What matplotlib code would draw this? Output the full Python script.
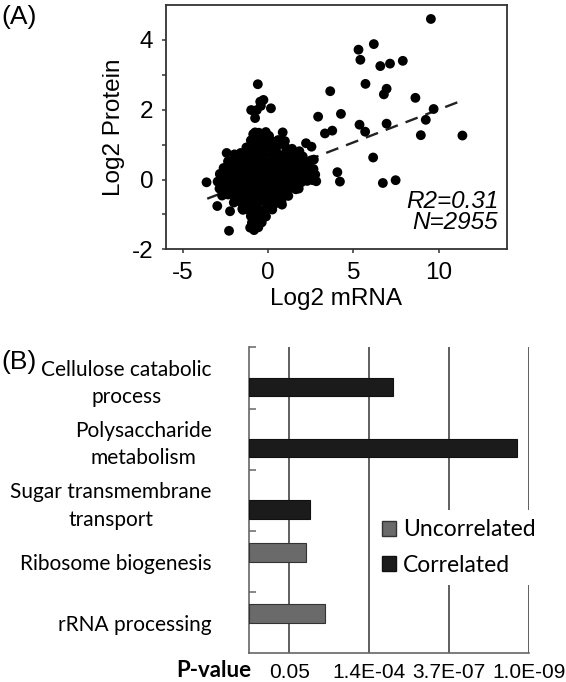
import matplotlib
matplotlib.use("Agg")
import matplotlib.pyplot as plt
from matplotlib.patches import Patch
import numpy as np

plt.rcParams["axes.unicode_minus"] = False

# ---------------- Panel A data (Log2 mRNA, Log2 Protein) ----------------
outlier_points = [
    (9.55, 4.60), (6.20, 3.88), (5.30, 3.72), (5.41, 3.43), (6.58, 3.25), (7.15, 3.32),
    (7.90, 3.40), (5.71, 2.74), (6.95, 2.60), (6.79, 2.44), (3.64, 2.53), (8.64, 2.34),
    (9.71, 2.02), (9.25, 1.71), (2.93, 1.80), (4.27, 1.88), (5.36, 1.57), (6.95, 1.60),
    (5.69, 1.37), (3.33, 1.32), (3.76, 1.40), (8.96, 1.27), (11.40, 1.26), (6.16, 0.63),
    (4.06, 0.21), (4.21, -0.06), (6.73, -0.10), (7.48, -0.02),
    (2.54, 0.94), (0.85, 1.35), (1.83, 0.81), (-3.62, -0.08), (-2.99, -0.76), (-2.30, -1.47),
    (-2.24, -0.91), (-1.48, -0.87), (-1.06, -1.38), (-0.83, -1.45), (-0.61, 2.73),
    (-0.28, 2.28), (-0.47, 2.23), (-1.00, 1.99), (-0.67, 1.99), (0.16, 2.04), (-0.77, 1.76),
    (-0.43, 2.11), (-0.14, 1.36), (-0.77, 1.35), (-2.44, 0.76), (-2.84, 0.16), (0.81, -0.72),
    (0.06, -0.76), (-0.24, -1.04), (2.68, 0.57), (2.82, -0.05), (1.79, -0.26), (2.22, 1.04),
    (2.03, 0.66), (0.75, 1.04),
]
cluster_points = [
    (-0.88, 1.30), (-0.55, 1.34), (-0.26, 1.28), (0.05, 1.25),
    (-1.02, 1.12), (-0.70, 1.15), (-0.40, 1.10), (-0.10, 1.14), (0.28, 1.08), (0.58, 1.13), (0.98, 1.10),
    (-1.28, 0.92), (-0.92, 0.95), (-0.57, 0.90), (-0.22, 0.96), (0.14, 0.91), (0.50, 0.94), (1.05, 0.90), (1.40, 0.88),
    (-1.98, 0.72), (-1.62, 0.76), (-1.27, 0.73), (-0.93, 0.75), (-0.56, 0.71), (-0.21, 0.77), (0.16, 0.73),
    (0.52, 0.75), (0.86, 0.70), (1.22, 0.74), (1.57, 0.72), (1.88, 0.68),
    (-2.36, 0.52), (-2.02, 0.56), (-1.66, 0.53), (-1.31, 0.55), (-0.96, 0.51), (-0.61, 0.57), (-0.26, 0.54),
    (0.11, 0.52), (0.46, 0.56), (0.81, 0.53), (1.16, 0.55), (1.51, 0.51), (1.86, 0.54), (2.21, 0.50), (2.52, 0.55),
    (-2.62, 0.33), (-2.27, 0.37), (-1.91, 0.34), (-1.56, 0.36), (-1.21, 0.32), (-0.86, 0.37), (-0.51, 0.35),
    (-0.16, 0.33), (0.21, 0.36), (0.56, 0.34), (0.91, 0.37), (1.26, 0.33), (1.61, 0.35), (1.96, 0.32), (2.31, 0.36), (2.66, 0.30),
    (-2.81, 0.14), (-2.46, 0.17), (-2.11, 0.13), (-1.76, 0.16), (-1.41, 0.12), (-1.06, 0.17), (-0.71, 0.15),
    (-0.36, 0.13), (0.01, 0.16), (0.36, 0.14), (0.71, 0.17), (1.06, 0.12), (1.41, 0.15), (1.76, 0.13),
    (2.11, 0.16), (2.46, 0.11), (2.76, 0.14),
    (-2.97, -0.06), (-2.61, -0.03), (-2.26, -0.07), (-1.91, -0.04), (-1.56, -0.06), (-1.21, -0.02), (-0.86, -0.05),
    (-0.51, -0.07), (-0.16, -0.03), (0.19, -0.06), (0.54, -0.04), (0.89, -0.07), (1.24, -0.03), (1.59, -0.05),
    (1.94, -0.08), (2.29, -0.04), (2.62, -0.02),
    (-2.86, -0.26), (-2.51, -0.23), (-2.16, -0.27), (-1.81, -0.24), (-1.46, -0.26), (-1.11, -0.22), (-0.76, -0.25),
    (-0.41, -0.28), (-0.06, -0.24), (0.29, -0.26), (0.64, -0.23), (0.99, -0.27), (1.34, -0.24), (1.62, -0.28),
    (-2.71, -0.46), (-2.36, -0.43), (-2.01, -0.47), (-1.66, -0.44), (-1.31, -0.46), (-0.96, -0.42), (-0.61, -0.45),
    (-0.26, -0.48), (0.09, -0.44), (0.44, -0.46), (0.84, -0.43), (1.18, -0.47),
    (-2.02, -0.66), (-1.66, -0.63), (-1.31, -0.67), (-0.96, -0.64), (-0.61, -0.66), (-0.26, -0.62),
    (0.09, -0.65), (0.44, -0.68), (0.78, -0.62),
    (-1.52, -0.84), (-1.16, -0.87), (-0.81, -0.85), (-0.46, -0.88), (-0.11, -0.84), (0.24, -0.86),
    (-1.02, -1.05), (-0.71, -1.08), (-0.41, -1.04), (-0.13, -1.06),
    (-0.96, -1.24), (-0.66, -1.27), (-0.38, -1.23),
    (-0.86, -1.40), (-0.58, -1.37),
]
fit_slope = 0.188
fit_intercept = 0.123
fit_x_range = [-3.58, 11.44]
r2_text = "R2=0.31"
n_text = "N=2955"

# ---------------- Panel B data ----------------
categories = ["Cellulose catabolic\nprocess", "Polysaccharide\nmetabolism",
              "Sugar transmembrane\ntransport", "Ribosome biogenesis", "rRNA processing"]
correlated = [10.8, 20.06, 4.55, 0, 0]       # -ln(P-value)
uncorrelated = [0, 0, 0, 4.25, 5.68]         # -ln(P-value)
p_tick_pos = [3, 9, 15, 21]
p_tick_labels = ["0.05", "1.4E-04", "3.7E-07", "1.0E-09"]

# ---------------- Figure ----------------
W, H = 566, 682
fig = plt.figure(figsize=(W / 100, H / 100), dpi=100)
arial = "Liberation Sans"
calibri = "Lato"

# ---- Panel A ----
ax1 = fig.add_axes([166 / W, 1 - 249.3 / H, (506.7 - 166) / W, (249.3 - 5) / H])
pts = outlier_points + cluster_points
mx = [p[0] for p in pts]
py = [p[1] for p in pts]
ax1.scatter(mx, py, s=50, c="black", edgecolors="none", zorder=3)
fx = np.array(fit_x_range)
ax1.plot(fx, fit_slope * fx + fit_intercept, color="#222222", lw=1.7,
         dashes=(5.5, 3.5), zorder=2)
ax1.set_xlim(-6, 14)
ax1.set_ylim(-2, 5)
ax1.set_xticks([-5, 0, 5, 10])
ax1.set_yticks([-2, 0, 2, 4])
ax1.set_yticks([-1, 1, 3], minor=True)
for s in ax1.spines.values():
    s.set_color("#333333")
    s.set_linewidth(1.3)
ax1.tick_params(which="both", direction="out", length=3, width=1.1, color="#333333",
                labelsize=17.5, pad=6)
ax1.tick_params(which="minor", labelleft=False)
for lab in ax1.get_xticklabels() + ax1.get_yticklabels():
    lab.set_fontfamily(arial)
ax1.set_xlabel("Log2 mRNA", fontsize=17.5, family=arial, labelpad=3)
ax1.set_ylabel("Log2 Protein", fontsize=17.5, family=arial, labelpad=5)
ax1.text(13.5, -0.62, r2_text, ha="right", va="center", fontsize=17.5,
         style="italic", family=arial)
ax1.text(13.5, -1.23, n_text, ha="right", va="center", fontsize=17.5,
         style="italic", family=arial)

fig.text(1 / W, 1 - 17 / H, "(A)", fontsize=19, family=arial, ha="left", va="center")
fig.text(1 / W, 1 - 362 / H, "(B)", fontsize=19, family=arial, ha="left", va="center")

# ---- Panel B ----
ax2 = fig.add_axes([249.3 / W, 1 - 653.3 / H, 280 / W, 306 / H])
ypos = np.arange(len(categories))
bh = 0.30
cy = [y for y, v in zip(ypos, correlated) if v > 0]
cv = [v for v in correlated if v > 0]
uy = [y for y, v in zip(ypos, uncorrelated) if v > 0]
uv = [v for v in uncorrelated if v > 0]
ax2.barh(np.array(cy), cv, height=bh, align="edge", color="#1b1b1b",
         edgecolor="#111111", linewidth=0.8, zorder=3)
ax2.barh(np.array(uy) - bh, uv, height=bh, align="edge", color="#6a6a6a",
         edgecolor="#333333", linewidth=0.8, zorder=3)
ax2.set_xlim(0, 21)
ax2.set_ylim(len(categories) - 0.5, -0.5)
ax2.set_xticks(p_tick_pos, labels=p_tick_labels)
ax2.set_yticks(ypos, labels=categories)
ax2.set_yticks(np.arange(-0.5, len(categories) - 0.5, 1.0), minor=True)
ax2.xaxis.grid(True, color="#444444", linewidth=1.2)
ax2.set_axisbelow(True)
for side in ["top", "right"]:
    ax2.spines[side].set_visible(False)
for side in ["left", "bottom"]:
    ax2.spines[side].set_color("#666666")
    ax2.spines[side].set_linewidth(1.2)
ax2.tick_params(axis="y", which="major", length=0, pad=27, labelsize=15)
ax2.tick_params(axis="y", which="minor", direction="in", length=5, width=1.1,
                color="#666666")
ax2.tick_params(axis="x", length=0, pad=7, labelsize=15)
for lab in ax2.get_yticklabels():
    lab.set_fontfamily(calibri)
    lab.set_multialignment("center")
    lab.set_linespacing(1.45)
for lab in ax2.get_xticklabels():
    lab.set_fontfamily(arial)
ax2.text(-0.125, -0.055, "P-value", transform=ax2.transAxes, ha="center", va="center",
         fontsize=16, fontweight="bold", family=calibri)

handles = [Patch(facecolor="#6a6a6a", edgecolor="#333333", label="Uncorrelated"),
           Patch(facecolor="#1b1b1b", edgecolor="#111111", label="Correlated")]
leg = ax2.legend(handles=handles, loc="center left", bbox_to_anchor=(0.44, 0.346),
                 frameon=True, facecolor="white", edgecolor="none", framealpha=1,
                 fancybox=False, prop={"family": calibri, "size": 16.5},
                 handlelength=0.62, handleheight=0.62, handletextpad=0.3,
                 labelspacing=0.62, borderpad=0.4, borderaxespad=0)
leg.set_zorder(5)

fig.savefig("out.png", dpi=100)
